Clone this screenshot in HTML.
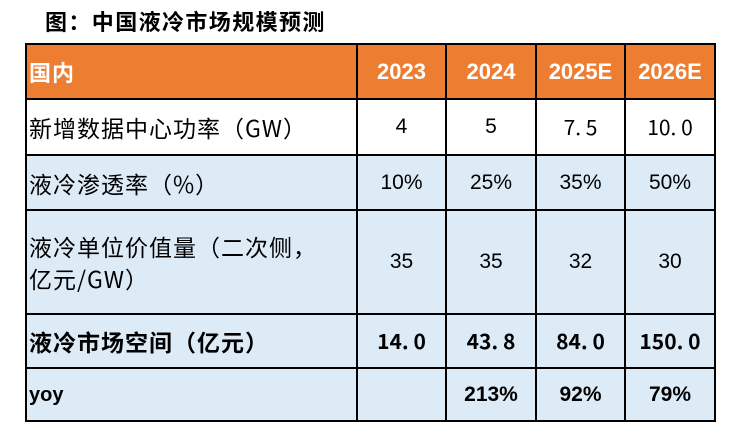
<!DOCTYPE html>
<html><head><meta charset="utf-8"><style>
body{margin:0;width:735px;height:446px;background:#fff;font-family:"Liberation Sans","Noto Sans CJK SC",sans-serif;position:relative;overflow:hidden}
#title{position:absolute;left:45px;top:6px;font-size:22px;font-weight:bold;color:#000;font-family:"Noto Sans CJK SC",sans-serif;line-height:30px;letter-spacing:1.4px}
table{position:absolute;left:25px;top:43px;border-collapse:collapse;table-layout:fixed}
td{border:2px solid #000;padding:0;font-size:21px;color:#000;text-align:center;background:#DDEBF7}
td.l{text-align:left;padding-left:2px;font-family:"Noto Sans CJK SC",sans-serif;font-size:23px;line-height:32px;letter-spacing:1px}
tr.h td{background:#ED7D31;color:#fff;font-weight:bold;font-size:22px}
tr.w td{background:#fff}
.c{font-family:"Noto Sans CJK SC",sans-serif}
.b{font-weight:bold}
td.y{font-family:"Liberation Sans",sans-serif;font-size:20px;letter-spacing:0}
</style></head><body>
<div id="title">图：中国液冷市场规模预测</div>
<table>
<colgroup><col style="width:331px"><col style="width:89px"><col style="width:90px"><col style="width:89px"><col style="width:90px"></colgroup>
<tr class="h" style="height:55px"><td class="l" style="font-weight:bold">国内</td><td>2023</td><td>2024</td><td>2025E</td><td>2026E</td></tr>
<tr class="w" style="height:56px"><td class="l">新增数据中心功率（GW）</td><td>4</td><td>5</td><td class="c">7. 5</td><td class="c">10. 0</td></tr>
<tr style="height:55px"><td class="l">液冷渗透率（%）</td><td>10%</td><td>25%</td><td>35%</td><td>50%</td></tr>
<tr style="height:104px"><td class="l">液冷单位价值量（二次侧，<br>亿元/GW）</td><td>35</td><td>35</td><td>32</td><td>30</td></tr>
<tr style="height:54px"><td class="l b">液冷市场空间（亿元）</td><td class="c b">14. 0</td><td class="c b">43. 8</td><td class="c b">84. 0</td><td class="c b">150. 0</td></tr>
<tr style="height:53px"><td class="l b y">yoy</td><td></td><td class="b">213%</td><td class="b">92%</td><td class="b">79%</td></tr>
</table>
</body></html>
